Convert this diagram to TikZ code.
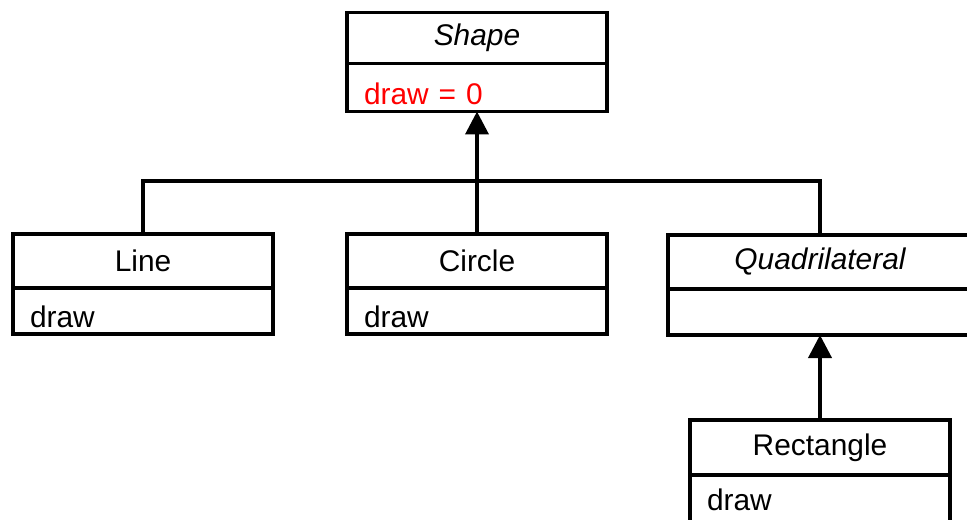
\documentclass[tikz,border=0pt]{standalone}
\usepackage{fontspec}
\setmainfont{Liberation Sans}
\usepackage{tikz}
\usetikzlibrary{arrows.meta, positioning}
\definecolor{umlred}{HTML}{FF0000}

\begin{document}
\begin{tikzpicture}[
    classhead/.style={draw, line width=2.2pt, outer sep=0pt, minimum width=5.2cm,
      minimum height=1.08cm, inner sep=0pt, font=\fontsize{17}{20}\selectfont},
    classbody/.style={draw, line width=2.2pt, outer sep=0pt, inner xsep=0.34cm,
      inner ysep=0pt, text width=4.52cm, minimum height=0.92cm, align=left,
      text height=0.68cm, text depth=0pt,
      font=\fontsize{17}{20}\selectfont, below=0pt of #1},
    inherit/.style={line width=2.2pt, -{Triangle[length=0.46cm, width=0.46cm]}},
    link/.style={line width=2.2pt}]
  \clip (0,0) rectangle (19.34,-10.4);

  \node[classhead, minimum height=1.02cm] (shape) at (9.54,-0.76) {\itshape Shape};
  \node[classbody=shape, minimum height=0.96cm, text=umlred] (shape-ops) {draw = 0};

  \node[classhead] (line) at (2.86,-5.22) {Line};
  \node[classbody=line] (line-ops) {draw};

  \node[classhead] (circle) at (9.54,-5.22) {Circle};
  \node[classbody=circle] (circle-ops) {draw};

  \node[classhead, minimum width=6.08cm] (quad) at (16.4,-5.24) {\itshape Quadrilateral};
  \node[classbody=quad, text width=5.4cm] (quad-ops) {};

  \node[classhead, minimum height=1.1cm] (rect) at (16.4,-8.95) {Rectangle};
  \node[classbody=rect, minimum height=1.04cm, text depth=0.3cm] (rect-ops) {draw};

  % generalisation tree
  \coordinate (bar) at (9.54,-3.62);
  \draw[link] (line.north) |- (bar) -| (quad.north);
  \draw[inherit] (circle.north) -- (shape-ops.south);
  \draw[inherit] (rect.north) -- (quad-ops.south);
\end{tikzpicture}
\end{document}
